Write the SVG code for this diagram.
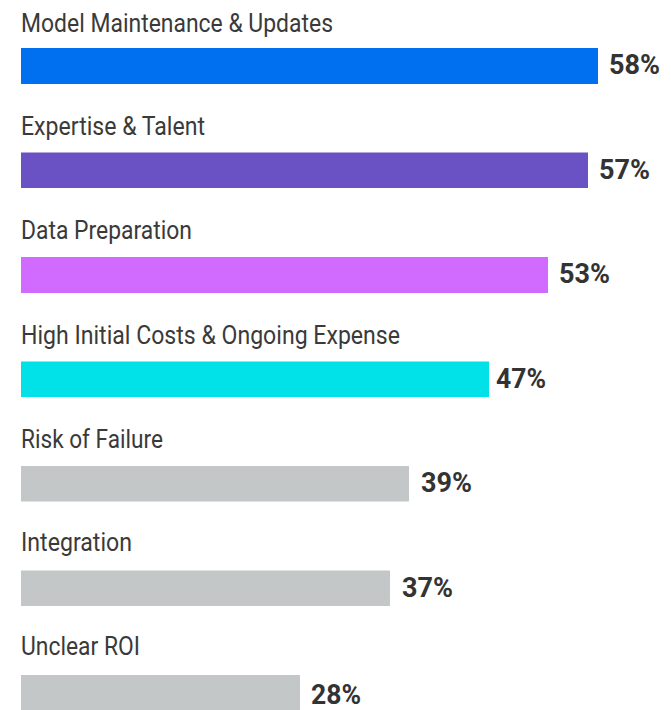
<svg xmlns="http://www.w3.org/2000/svg" width="671" height="710" viewBox="0 0 671 710">
<style>
.lbl{font-family:Roboto,"Liberation Sans",sans-serif;font-size:25px;fill:#3a3a3a}
.pct{font-family:Roboto,"Liberation Sans",sans-serif;font-size:27.5px;font-weight:bold;fill:#333}
</style>
<rect width="671" height="710" fill="#fff"/>
<g id="row1"><text class="lbl" x="21" y="32" textLength="312" lengthAdjust="spacingAndGlyphs">Model Maintenance &amp; Updates</text><rect x="21" y="48" width="577" height="36" fill="#0070F0"/><text class="pct" x="609" y="74" textLength="51" lengthAdjust="spacingAndGlyphs">58%</text></g>
<g id="row2"><text class="lbl" x="21" y="135" textLength="184" lengthAdjust="spacingAndGlyphs">Expertise &amp; Talent</text><rect x="21" y="152.5" width="567" height="35.5" fill="#6B52C4"/><text class="pct" x="599" y="178.5" textLength="51" lengthAdjust="spacingAndGlyphs">57%</text></g>
<g id="row3"><text class="lbl" x="21" y="239" textLength="171" lengthAdjust="spacingAndGlyphs">Data Preparation</text><rect x="21" y="257" width="527" height="36" fill="#D16BFF"/><text class="pct" x="559" y="283" textLength="51" lengthAdjust="spacingAndGlyphs">53%</text></g>
<g id="row4"><text class="lbl" x="21" y="343.5" textLength="379" lengthAdjust="spacingAndGlyphs">High Initial Costs &amp; Ongoing Expense</text><rect x="21" y="361.5" width="468" height="35.5" fill="#00E2E8"/><text class="pct" x="496" y="387.5" textLength="50" lengthAdjust="spacingAndGlyphs">47%</text></g>
<g id="row5"><text class="lbl" x="21" y="447.5" textLength="142" lengthAdjust="spacingAndGlyphs">Risk of Failure</text><rect x="21" y="466" width="388" height="35.5" fill="#C4C7C8"/><text class="pct" x="421" y="492" textLength="51" lengthAdjust="spacingAndGlyphs">39%</text></g>
<g id="row6"><text class="lbl" x="21" y="551" textLength="111" lengthAdjust="spacingAndGlyphs">Integration</text><rect x="21" y="570.5" width="369" height="35.5" fill="#C4C7C8"/><text class="pct" x="402" y="596.5" textLength="51" lengthAdjust="spacingAndGlyphs">37%</text></g>
<g id="row7"><text class="lbl" x="21" y="655" textLength="119" lengthAdjust="spacingAndGlyphs">Unclear ROI</text><rect x="21" y="675" width="279" height="35" fill="#C4C7C8"/><text class="pct" x="311" y="703.5" textLength="50" lengthAdjust="spacingAndGlyphs">28%</text></g>
</svg>
